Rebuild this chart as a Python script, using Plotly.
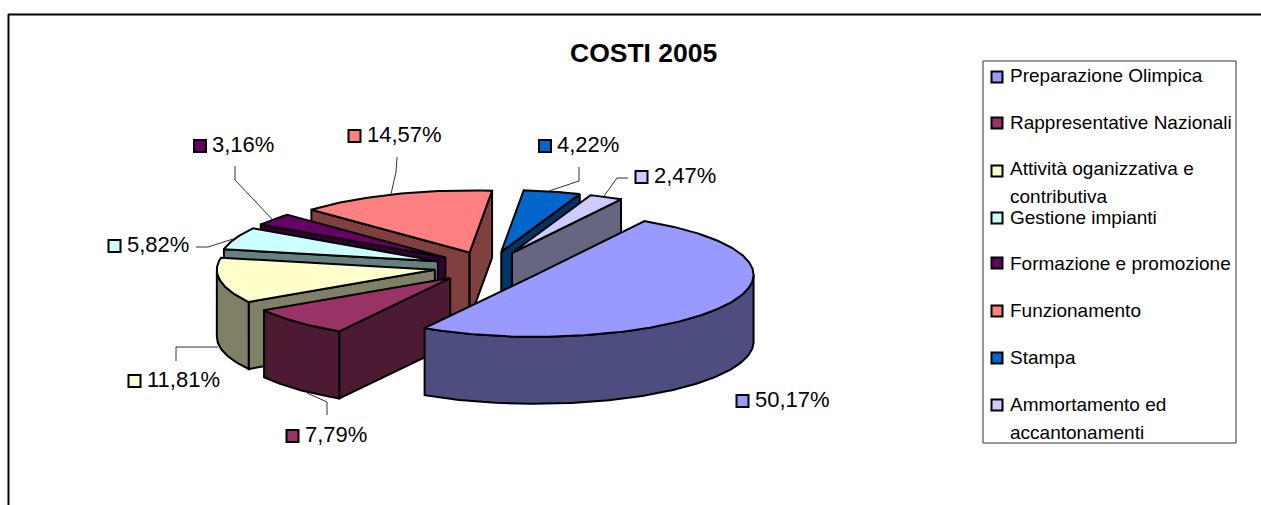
import math
import plotly.graph_objects as go

# ---- data ----
categories = ["Preparazione Olimpica", "Rappresentative Nazionali",
              "Attività oganizzativa e<br>contributiva", "Gestione impianti",
              "Formazione e promozione", "Funzionamento", "Stampa",
              "Ammortamento ed<br>accantonamenti"]
values = [50.17, 7.79, 11.81, 5.82, 3.16, 14.57, 4.22, 2.47]
title_text = "COSTI 2005"

# ---- style ----
top_colors = ["#9999FF", "#993366", "#FFFFCC", "#CCFFFF", "#660066", "#FF8080", "#0066CC", "#CCCCFF"]
side_colors = ["#4D4D80", "#4D1A33", "#808066", "#668080", "#330033", "#804040", "#003366", "#666680"]
FONT = "Liberation Sans, Arial, sans-serif"
CX, CY, RX, RY, DEPTH, PULL, START = 488.5, 267, 218, 62, 67, 0.25, 30.0
draw_order = [5, 6, 7, 4, 3, 2, 1, 0]
label_key_pos = [(742.5, 401), (292.5, 436), (134.5, 381), (114.5, 246),
                 (200, 146), (354.5, 136), (545, 146), (641.5, 177)]
label_size = 22
leaders = [None,
           [(327, 415), (327, 402), (307, 393)],
           [(176, 361), (176, 347), (218, 347)],
           [(196, 247), (208, 247), (233, 239)],
           [(235, 166), (235, 180), (272, 219)],
           [(397, 157), (396, 172), (391, 194)],
           [(579, 167), (579, 181), (549, 191)],
           [(628, 178), (617, 178), (604, 196)]]
legend_box = (983, 61, 1236, 443)
legend_key_y = [77, 123, 171, 218, 263, 311, 358, 405]
legend_text_y = [75, 122, 168, 217, 263, 310, 357, 404]
legend_line_gap = 28.5
legend_size = 19


def rim(theta, ax, ay, dz=0):
    t = math.radians(theta)
    return ax + RX * math.sin(t), ay - RY * math.cos(t) + dz


fig = go.Figure()
total = sum(values)
spans = []
a = START
for v in values:
    b = a + v / total * 360
    spans.append((a, b))
    a = b


def poly(pts, color, name):
    fig.add_trace(go.Scatter(x=[p[0] for p in pts], y=[p[1] for p in pts], mode="lines",
                             fill="toself", fillcolor=color,
                             line=dict(color="black", width=2),
                             name=name, showlegend=False, hoverinfo="name"))


for i in draw_order:
    a, b = spans[i]
    mid = (a + b) / 2
    m = math.radians(mid)
    ax = CX + PULL * RX * math.sin(m)
    ay = CY - PULL * RY * math.cos(m)
    name = categories[i].replace("<br>", " ")
    side = side_colors[i]
    # radial walls
    for th, visible in ((a, math.sin(math.radians(a)) < 0), (b, math.sin(math.radians(b)) > 0)):
        if visible:
            p = rim(th, ax, ay)
            poly([(ax, ay), p, (p[0], p[1] + DEPTH), (ax, ay + DEPTH), (ax, ay)], side, name)
    # outer wall (front half of the rim)
    lo, hi = max(a, 90), min(b, 270)
    if hi > lo:
        n = max(int(hi - lo), 2)
        arc = [rim(lo + (hi - lo) * k / n, ax, ay) for k in range(n + 1)]
        poly(arc + [(x, y + DEPTH) for x, y in reversed(arc)] + [arc[0]], side, name)
    # top face
    n = max(int(b - a), 2)
    poly([(ax, ay)] + [rim(a + (b - a) * k / n, ax, ay) for k in range(n + 1)] + [(ax, ay)],
         top_colors[i], name)

shapes = [
    dict(type="line", x0=8, x1=1261, y0=14.5, y1=14.5, line=dict(color="black", width=2)),
    dict(type="line", x0=8.5, x1=8.5, y0=14, y1=505, line=dict(color="black", width=2)),
    dict(type="rect", x0=legend_box[0], y0=legend_box[1], x1=legend_box[2], y1=legend_box[3],
         line=dict(color="#333333", width=1), fillcolor="white"),
]
annotations = [dict(text="<b>%s</b>" % title_text, x=643, y=53, xref="x", yref="y", showarrow=False,
                    font=dict(family=FONT, size=26.5, color="black"))]


def key(x, y, color, half):
    shapes.append(dict(type="rect", x0=x - half, x1=x + half, y0=y - half, y1=y + half,
                       fillcolor=color, line=dict(color="black", width=2)))


for i, v in enumerate(values):
    kx, ky = label_key_pos[i]
    key(kx, ky, top_colors[i], 6)
    annotations.append(dict(text=f"{v:.2f}".replace(".", ",") + "%", x=kx + 10, y=ky - 1.5, xref="x", yref="y",
                            xanchor="left", yanchor="middle", showarrow=False,
                            font=dict(family=FONT, size=label_size, color="black")))
    if leaders[i]:
        pts = leaders[i]
        path = "M " + " L ".join(f"{x} {y}" for x, y in pts)
        shapes.append(dict(type="path", path=path, line=dict(color="#333333", width=1)))
    key(997, legend_key_y[i], top_colors[i], 5.5)
    for j, line in enumerate(categories[i].split("<br>")):
        annotations.append(dict(text=line, x=1008, y=legend_text_y[i] + j * legend_line_gap,
                                xref="x", yref="y", xanchor="left", yanchor="middle", showarrow=False,
                                font=dict(family=FONT, size=legend_size, color="black")))

fig.update_layout(
    width=1261, height=505, margin=dict(l=0, r=0, t=0, b=0),
    paper_bgcolor="white", plot_bgcolor="white", showlegend=False,
    xaxis=dict(range=[0, 1261], visible=False, fixedrange=True),
    yaxis=dict(range=[505, 0], visible=False, fixedrange=True),
    shapes=shapes, annotations=annotations,
)
fig.write_html("out.html", config={"displayModeBar": False},
               post_script="document.body.style.margin='0';document.body.style.overflow='hidden';")
